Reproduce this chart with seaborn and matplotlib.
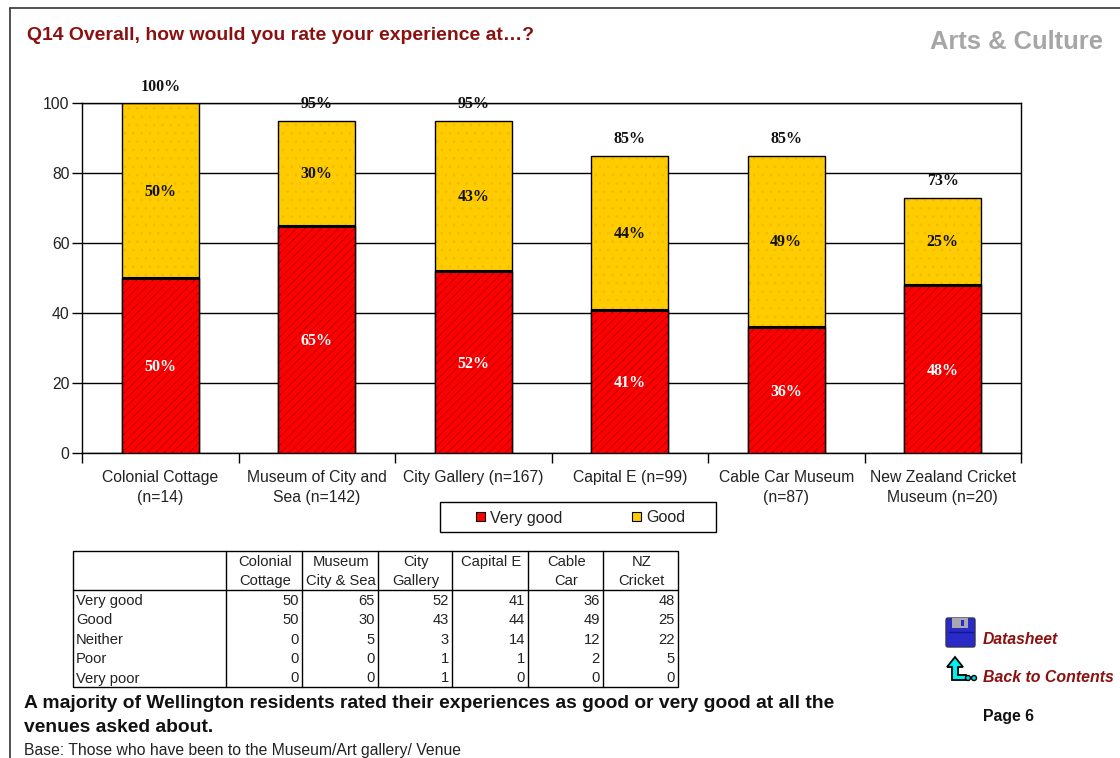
import numpy as np
import pandas as pd
import matplotlib
matplotlib.use("Agg")
import matplotlib.pyplot as plt
from matplotlib.patches import Rectangle, Polygon, FancyBboxPatch, Circle
import seaborn as sns

# Survey results
venues = ["Colonial Cottage\n(n=14)", "Museum of City and\nSea (n=142)", "City Gallery (n=167)",
          "Capital E (n=99)", "Cable Car Museum\n(n=87)", "New Zealand Cricket\nMuseum (n=20)"]
table_heads = ["Colonial\nCottage", "Museum\nCity & Sea", "City\nGallery", "Capital E\n ", "Cable\nCar", "NZ\nCricket"]
very_good = [50, 65, 52, 41, 36, 48]
good = [50, 30, 43, 44, 49, 25]
neither = [0, 5, 3, 14, 12, 22]
poor = [0, 0, 1, 1, 2, 5]
very_poor = [0, 0, 1, 0, 0, 0]
y_ticks = [0, 20, 40, 60, 80, 100]

W, H = 1120, 758
sns.set_theme(style="white")
plt.rcParams["font.family"] = ["Liberation Sans", "DejaVu Sans"]
plt.rcParams["hatch.linewidth"] = 0.8

fig = plt.figure(figsize=(W / 100, H / 100), dpi=100, facecolor="white")
ax = fig.add_axes([82 / W, 1 - 453 / H, (1021 - 82) / W, 350 / H])

df = pd.DataFrame({"venue": venues, "very_good": very_good, "good": good})
df["total"] = df["very_good"] + df["good"]

RED, YELLOW = "#ff0000", "#ffcc00"
BAR_W = 0.49

# Stacked columns: the cumulative column first, the lower segment over it
sns.barplot(data=df, x="venue", y="total", ax=ax, color=YELLOW, saturation=1, width=BAR_W,
            hatch="..", edgecolor="#f7bc00", linewidth=0, zorder=2)
sns.barplot(data=df, x="venue", y="total", ax=ax, facecolor="none", edgecolor="black", width=BAR_W,
            linewidth=1, zorder=3)
sns.barplot(data=df, x="venue", y="very_good", ax=ax, color=RED, saturation=1, width=BAR_W,
            hatch="////", edgecolor="#c00000", linewidth=0, zorder=4)
sns.barplot(data=df, x="venue", y="very_good", ax=ax, facecolor="none", edgecolor="black", width=BAR_W,
            linewidth=1, zorder=5)
ax.hlines(df["very_good"], np.arange(6) - BAR_W / 2, np.arange(6) + BAR_W / 2, color="black", lw=2.2, zorder=6)

ax.set_xlim(-0.5, 5.5)
ax.set_ylim(0, 100)
ax.set_xlabel("")
ax.set_ylabel("")
ax.set_yticks(y_ticks)
ax.set_xticks(np.arange(-0.5, 6), minor=True)
ax.yaxis.grid(True, color="black", lw=1)
ax.xaxis.grid(False)
ax.set_axisbelow(True)
ax.tick_params(axis="y", left=True, length=7, width=1, color="black", labelsize=11.3, labelcolor="#222222", pad=2)
ax.tick_params(axis="x", which="major", bottom=False, labelsize=11.3, labelcolor="#222222", pad=6.5)
ax.tick_params(axis="x", which="minor", bottom=True, length=7, width=1, color="black")
for lab in ax.get_xticklabels():
    lab.set_linespacing(1.42)
for s in ax.spines.values():
    s.set_visible(True)
    s.set_color("black")
    s.set_linewidth(1)

# Data labels
serif = dict(family="Liberation Serif", fontweight="bold", fontsize=11.5, ha="center", va="center")
for i, (v, g, t) in enumerate(zip(df["very_good"], df["good"], df["total"])):
    ax.text(i, v / 2 - 0.5, f"{v}%", color="white", zorder=8, **serif)
    ax.text(i, v + g / 2 - 0.3, f"{g}%", color="#111111", zorder=8, **serif)
    ax.text(i, t + 4.6, f"{t}%", color="#111111", zorder=8, clip_on=False, **serif)

# Page furniture is laid out in pixel coordinates on a full-figure overlay
ov = fig.add_axes([0, 0, 1, 1], facecolor="none")
ov.set_xlim(0, W)
ov.set_ylim(H, 0)
ov.axis("off")

ov.plot([10, W], [8, 8], color="#333333", lw=1.2)
ov.plot([10, 10], [8, H], color="#333333", lw=1.2)

ov.text(27, 36, "Q14 Overall, how would you rate your experience at…?", color="#8b1010",
        fontsize=13.95, fontweight="bold", va="center")
ov.text(1103, 42, "Arts & Culture", color="#a6a6a6", fontsize=18.4, fontweight="bold", va="center", ha="right")

# Legend
ov.add_patch(Rectangle((440, 502), 276, 30, fc="white", ec="black", lw=1))
for x, c, name in [(476, RED, "Very good"), (632, YELLOW, "Good")]:
    ov.add_patch(Rectangle((x, 512), 9, 9, fc=c, ec="black", lw=0.8))
    ov.text(x + 14, 518, name, fontsize=11.6, color="#222222", va="center")

# Data table
col_x = [73, 226, 302, 378, 452, 528, 603, 678]
row_y = [590, 609.5, 629, 648.5, 668, 687]
tkw = dict(color="#222222", fontsize=10.6)
ov.add_patch(Rectangle((73, 551), 605, 136, fc="white", ec="black", lw=1))
ov.plot([73, 678], [590, 590], color="black", lw=1)
for x in col_x[1:-1]:
    ov.plot([x, x], [551, 687], color="black", lw=1)
for j, head in enumerate(table_heads):
    ov.text((col_x[j + 1] + col_x[j + 2]) / 2 + 1, 571.5, head, ha="center", va="center", linespacing=1.5, **tkw)
rows = [("Very good", very_good), ("Good", good), ("Neither", neither), ("Poor", poor), ("Very poor", very_poor)]
for r, (name, vals) in enumerate(rows):
    yc = (row_y[r] + row_y[r + 1]) / 2 + 1
    ov.text(76, yc, name, va="center", **tkw)
    for j, val in enumerate(vals):
        ov.text(col_x[j + 2] - 3, yc, str(val), va="center", ha="right", **tkw)

# Commentary
ov.text(24, 703, "A majority of Wellington residents rated their experiences as good or very good at all the",
        fontsize=13.85, fontweight="bold", color="#111111", va="center")
ov.text(24, 728, "venues asked about.", fontsize=13.85, fontweight="bold", color="#111111", va="center")
ov.text(24, 750, "Base: Those who have been to the Museum/Art gallery/ Venue", fontsize=11.3, color="#222222", va="center")

# Navigation icons and links
ov.add_patch(FancyBboxPatch((946, 618), 29, 29, boxstyle="round,pad=0,rounding_size=2", fc="#2a2ac8", ec="#333355", lw=1))
ov.add_patch(Rectangle((952, 618), 16, 10, fc="#a8a8b0", ec="none"))
ov.add_patch(Rectangle((961, 620), 3, 6, fc="#2a2ac8", ec="none"))
ov.plot([949, 973], [632, 632], color="#14148c", lw=1)
ov.add_patch(Polygon([(955, 657), (947, 667), (952, 667), (952, 680), (966, 680), (966, 675), (958, 675),
                      (958, 667), (963, 667)], fc="#00f0f0", ec="black", lw=1.3))
for cx in (968, 974):
    ov.add_patch(Circle((cx, 678), 2.5, fc="#00d8d8", ec="black", lw=1))
ov.text(983, 639, "Datasheet", color="#8b1010", fontsize=11.3, fontstyle="italic", fontweight="bold", va="center")
ov.text(983, 678, "Back to Contents", color="#8b1010", fontsize=11.4, fontstyle="italic", fontweight="bold", va="center")
ov.text(983, 717, "Page 6", color="#111111", fontsize=11.4, fontweight="bold", va="center")

fig.savefig("out.png", dpi=100)
